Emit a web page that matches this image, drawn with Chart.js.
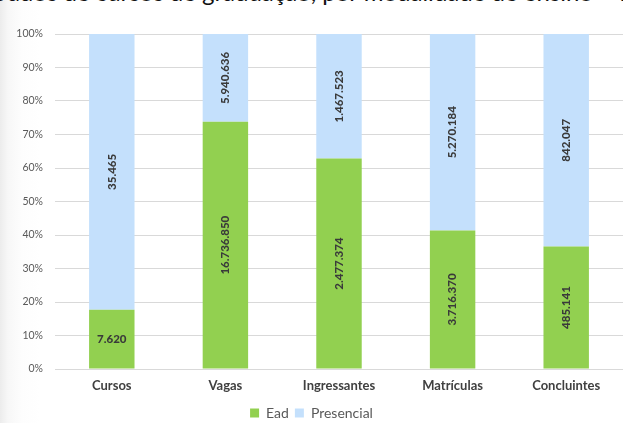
<!DOCTYPE html>
<html lang="pt-BR">
<head>
<meta charset="utf-8">
<script src="https://cdn.jsdelivr.net/npm/chart.js@4/dist/chart.umd.min.js"></script>
<style>
html,body{margin:0;padding:0;width:623px;height:423px;overflow:hidden;background:#fff;}
body{position:relative;background:linear-gradient(to right,#ececec 0px,#f7f7f7 8px,#fdfdfd 22px,#ffffff 40px);}
#cap{position:absolute;left:-10px;top:-23px;white-space:nowrap;font-family:Lato,sans-serif;font-size:24px;color:#111;}
#wrap{position:absolute;left:0;top:0;width:623px;height:430px;}
</style>
</head>
<body>
<div id="cap">Dados de cursos de graduação, por modalidade de ensino – Brasil</div>
<div id="wrap"><canvas id="c"></canvas></div>
<script>
var categorias=['Cursos','Vagas','Ingressantes','Matrículas','Concluintes'];
var ead=[7620,16736850,2477374,3716370,485141];
var presencial=[35465,5940636,1467523,5270184,842047];
var yTicks=[0,10,20,30,40,50,60,70,80,90,100];

function pct(arr){
  return arr.map(function(v,i){return v/(ead[i]+presencial[i])*100;});
}
function fmt(n){
  return String(n).replace(/\B(?=(\d{3})+(?!\d))/g,'.');
}

var raw=[ead,presencial];
// labels inside each segment, vertical except the short Cursos/Ead one
var segLabels={
  id:'segLabels',
  afterDatasetsDraw:function(chart){
    var ctx=chart.ctx;
    ctx.save();
    ctx.font='900 11.5px Lato, sans-serif';
    ctx.fillStyle='#3a3a3a';
    ctx.textAlign='center';
    ctx.textBaseline='middle';
    chart.data.datasets.forEach(function(ds,di){
      chart.getDatasetMeta(di).data.forEach(function(el,i){
        var t=fmt(raw[di][i]);
        var cy=(el.y+el.base)/2;
        ctx.save();
        ctx.translate(el.x,cy);
        if(!(di===0&&i===0))ctx.rotate(-Math.PI/2);
        ctx.fillText(t,0,0);
        ctx.restore();
      });
    });
    ctx.restore();
  }
};

new Chart(document.getElementById('c'),{
  type:'bar',
  data:{labels:categorias,datasets:[
    {label:'Ead',data:pct(ead),backgroundColor:'#92d050',barPercentage:0.4,categoryPercentage:1},
    {label:'Presencial',data:pct(presencial),backgroundColor:'#c4e0fc',barPercentage:0.4,categoryPercentage:1}
  ]},
  options:{
    responsive:true,maintainAspectRatio:false,animation:false,
    layout:{padding:{top:34,right:0,left:0,bottom:0}},
    plugins:{
      tooltip:{enabled:false},
      legend:{position:'bottom',labels:{color:'#595959',font:{family:'Lato',size:14},boxWidth:9,boxHeight:9,padding:6}}
    },
    scales:{
      x:{stacked:true,
        grid:{display:false,drawTicks:false},border:{display:false},
        ticks:{color:'#404040',padding:9,font:{family:'Lato',size:13,weight:'bold'}},
        afterFit:function(s){s.height=31;}},
      y:{stacked:true,min:0,max:100,
        afterBuildTicks:function(s){s.ticks=yTicks.map(function(v){return {value:v};});},
        grid:{color:'#d9d9d9',drawTicks:false},border:{display:false},
        ticks:{color:'#595959',padding:12,font:{family:'Lato',size:10.5},callback:function(v){return v+'%';}},
        afterFit:function(s){s.width=55;}}
    }
  },
  plugins:[segLabels]
});
</script>
</body>
</html>
